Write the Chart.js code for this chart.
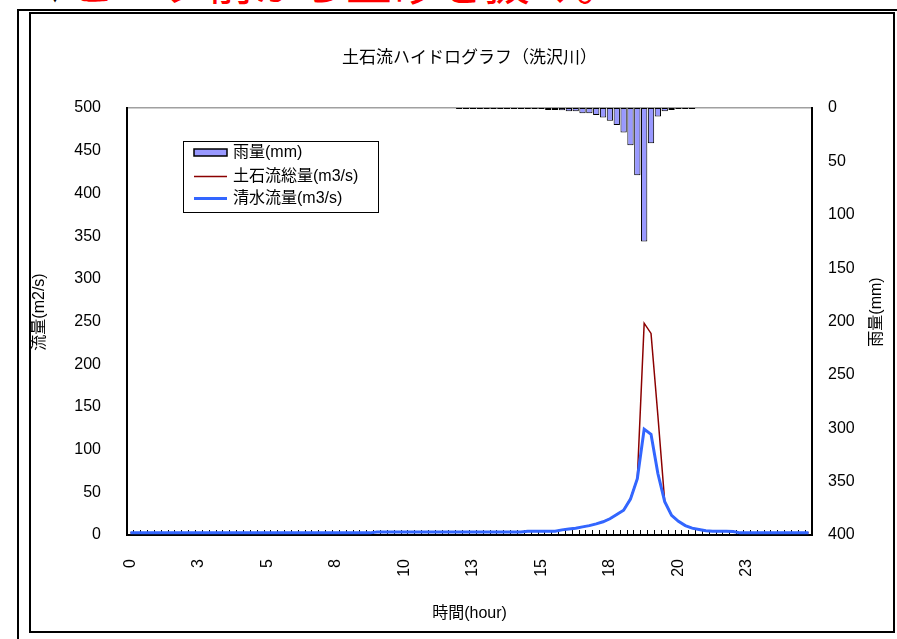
<!DOCTYPE html>
<html lang="ja">
<head>
  <meta charset="UTF-8" />
  <title>土石流ハイドログラフ（洗沢川）</title>
  <script src="https://cdn.jsdelivr.net/npm/chart.js"></script>
  <style>
    html, body { margin: 0; padding: 0; background: #fff; }
    body { width: 897px; height: 639px; position: relative; overflow: hidden; }
    .frame-outer { position: absolute; left: 17px; top: 9px; width: 900px; height: 660px;
      border-left: 2px solid #000; border-top: 2px solid #000; }
    .frame-inner { position: absolute; left: 29px; top: 12px; width: 862px; height: 617px;
      border: 2px solid #000; }
    .note { position: absolute; left: 40px; top: -43px; font-size: 46px; line-height: 46px;
      color: #ff0000; white-space: nowrap; font-family: "Noto Sans CJK JP", sans-serif; }
    .note span { color: #000; font-size: 30px; }
    #chart { position: absolute; left: 0; top: 0; }
  </style>
</head>
<body>
  <div class="note"><span>▼</span>ピーク前から土砂を抜く。</div>
  <div class="frame-outer"></div>
  <div class="frame-inner"></div>
  <canvas id="chart" width="897" height="639"></canvas>

  <script>
    const chartTitle = '土石流ハイドログラフ（洗沢川）';
    const xTitle = '時間(hour)';
    const yLeftTitle = '流量(m2/s)';
    const yRightTitle = '雨量(mm)';

    // 15分刻み
    const hours = [
      0, 0.25, 0.5, 0.75, 1, 1.25, 1.5, 1.75, 2, 2.25, 2.5, 2.75, 3, 3.25, 3.5, 3.75,
      4, 4.25, 4.5, 4.75, 5, 5.25, 5.5, 5.75, 6, 6.25, 6.5, 6.75, 7, 7.25, 7.5, 7.75,
      8, 8.25, 8.5, 8.75, 9, 9.25, 9.5, 9.75, 10, 10.25, 10.5, 10.75, 11, 11.25, 11.5, 11.75,
      12, 12.25, 12.5, 12.75, 13, 13.25, 13.5, 13.75, 14, 14.25, 14.5, 14.75, 15, 15.25, 15.5, 15.75,
      16, 16.25, 16.5, 16.75, 17, 17.25, 17.5, 17.75, 18, 18.25, 18.5, 18.75, 19, 19.25, 19.5, 19.75,
      20, 20.25, 20.5, 20.75, 21, 21.25, 21.5, 21.75, 22, 22.25, 22.5, 22.75, 23, 23.25, 23.5, 23.75,
      24, 24.25, 24.5, 24.75
    ];
    const tickLabels = ['0', '3', '5', '8', '10', '13', '15', '18', '20', '23'];

    const rainfall = [
      null, null, null, null, null, null, null, null, null, null, null, null, null, null, null, null,
      null, null, null, null, null, null, null, null, null, null, null, null, null, null, null, null,
      null, null, null, null, null, null, null, null, null, null, null, null, null, null, null, null,
      0, 0, 0, 0, 0, 0, 0, 0, 0, 0, 0, 0, 0,
      1.5, 1.5, 2, 3, 3, 5, 5, 6.5, 9, 12, 16, 23, 35, 63, 125, 33, 8, 3, 1.5,
      0, 0, 0,
      null, null, null, null, null, null, null, null, null, null, null, null, null, null, null, null, null
    ];

    const debrisFlow = [
      2.5, 2.5, 2.5, 2.5, 2.5, 2.5, 2.5, 2.5, 2.5, 2.5, 2.5, 2.5, 2.5, 2.5, 2.5, 2.5, 2.5, 2.5,
      2.5, 2.5, 2.5, 2.5, 2.5, 2.5, 2.5, 2.5, 2.5, 2.5, 2.5, 2.5, 2.5, 2.5, 2.5, 2.5, 2.5, 2.5,
      3.5, 3.5, 3.5, 3.5, 3.5, 3.5, 3.5, 3.5, 3.5, 3.5, 3.5, 3.5, 3.5, 3.5, 3.5, 3.5, 3.5, 3.5, 3.5, 3.5, 3.5, 3.5,
      4.5, 4.5, 4.5, 4.5, 4.5,
      6, 7, 8, 9.5, 11, 13, 15.5, 19, 24, 29, 43, 66, 248, 236, 140, 39, 23, 16, 11, 8, 6.5, 5, 4.5, 4.5, 4.5, 4,
      2.5, 2.5, 2.5, 2.5, 2.5, 2.5, 2.5, 2.5, 2.5, 2.5, 2.5
    ];

    const waterFlow = [
      2.5, 2.5, 2.5, 2.5, 2.5, 2.5, 2.5, 2.5, 2.5, 2.5, 2.5, 2.5, 2.5, 2.5, 2.5, 2.5, 2.5, 2.5,
      2.5, 2.5, 2.5, 2.5, 2.5, 2.5, 2.5, 2.5, 2.5, 2.5, 2.5, 2.5, 2.5, 2.5, 2.5, 2.5, 2.5, 2.5,
      3.5, 3.5, 3.5, 3.5, 3.5, 3.5, 3.5, 3.5, 3.5, 3.5, 3.5, 3.5, 3.5, 3.5, 3.5, 3.5, 3.5, 3.5, 3.5, 3.5, 3.5, 3.5,
      4.5, 4.5, 4.5, 4.5, 4.5,
      6, 7, 8, 9.5, 11, 13, 15.5, 19, 24, 29, 42, 66, 124, 118, 72, 39, 23, 16, 11, 8, 6.5, 5, 4.5, 4.5, 4.5, 4,
      2.5, 2.5, 2.5, 2.5, 2.5, 2.5, 2.5, 2.5, 2.5, 2.5, 2.5
    ];

    const FONT = '"Liberation Sans", "Noto Sans CJK JP", sans-serif';

    // タイトル・軸タイトル・凡例を描く
    const labelsPlugin = {
      id: 'labels',
      afterDraw(chart) {
        const { ctx, chartArea } = chart;
        const ds = chart.data.datasets;
        ctx.save();
        ctx.fillStyle = '#000';
        ctx.textBaseline = 'middle';

        ctx.textAlign = 'center';
        ctx.font = '17px ' + FONT;
        ctx.fillText(chartTitle, (chartArea.left + chartArea.right) / 2, 58);
        ctx.font = '16px ' + FONT;
        ctx.fillText(xTitle, (chartArea.left + chartArea.right) / 2, 614);

        ctx.save();
        ctx.translate(40, 312);
        ctx.rotate(-Math.PI / 2);
        ctx.fillText(yLeftTitle, 0, 0);
        ctx.restore();

        ctx.save();
        ctx.translate(877, 312);
        ctx.rotate(-Math.PI / 2);
        ctx.fillText(yRightTitle, 0, 0);
        ctx.restore();

        // 凡例
        ctx.fillStyle = '#fff';
        ctx.fillRect(183, 141, 195, 71);
        ctx.strokeStyle = '#000';
        ctx.lineWidth = 1;
        ctx.strokeRect(183.5, 141.5, 195, 71);

        const rows = [153, 176.5, 198.5];
        ctx.fillStyle = ds[0].backgroundColor;
        ctx.fillRect(194, 149, 33, 7);
        ctx.lineWidth = 1.5;
        ctx.strokeStyle = '#000';
        ctx.strokeRect(194, 149, 33, 7);

        ctx.lineWidth = ds[1].borderWidth;
        ctx.strokeStyle = ds[1].borderColor;
        ctx.beginPath(); ctx.moveTo(194, rows[1]); ctx.lineTo(227, rows[1]); ctx.stroke();
        ctx.lineWidth = ds[2].borderWidth;
        ctx.strokeStyle = ds[2].borderColor;
        ctx.beginPath(); ctx.moveTo(194, rows[2]); ctx.lineTo(227, rows[2]); ctx.stroke();

        ctx.fillStyle = '#000';
        ctx.textAlign = 'left';
        ds.forEach((d, i) => ctx.fillText(d.label, 233, rows[i]));
        ctx.restore();
      }
    };

    new Chart(document.getElementById('chart'), {
      type: 'bar',
      data: {
        labels: hours,
        datasets: [
          {
            type: 'bar',
            label: '雨量(mm)',
            data: rainfall,
            yAxisID: 'y1',
            backgroundColor: '#9999ff',
            borderColor: '#000',
            borderWidth: 1,
            borderSkipped: false,
            minBarLength: 2,
            barPercentage: 0.92,
            categoryPercentage: 1,
            order: 3
          },
          {
            type: 'line',
            label: '土石流総量(m3/s)',
            data: debrisFlow,
            yAxisID: 'y',
            borderColor: '#8b0000',
            borderWidth: 1.5,
            pointRadius: 0,
            tension: 0,
            order: 2
          },
          {
            type: 'line',
            label: '清水流量(m3/s)',
            data: waterFlow,
            yAxisID: 'y',
            borderColor: '#3366ff',
            borderWidth: 3,
            pointRadius: 0,
            tension: 0,
            order: 1
          }
        ]
      },
      options: {
        responsive: false,
        devicePixelRatio: 1,
        animation: false,
        layout: { padding: { top: 108, left: 0, right: 0, bottom: 0 } },
        plugins: {
          legend: { display: false },
          title: { display: false },
          tooltip: { enabled: false }
        },
        scales: {
          x: {
            offset: true,
            grid: { display: true, drawOnChartArea: false, drawTicks: true, tickLength: -5, color: '#000', lineWidth: 1, offset: true },
            border: { display: true, color: '#000', width: 2 },
            ticks: {
              autoSkip: false, maxRotation: 90, minRotation: 90, padding: 29, color: '#000',
              font: { family: FONT, size: 16 },
              callback: (v, i) => (i % 10 === 0 ? tickLabels[i / 10] : '')
            },
            afterFit: s => { s.height = 104; }
          },
          y: {
            position: 'left',
            min: 0, max: 500,
            ticks: { stepSize: 50, padding: 26, color: '#000', font: { family: FONT, size: 16 } },
            grid: {
              drawTicks: false,
              color: c => (c.tick && c.tick.value === 500 ? '#a0a0a0' : 'rgba(0,0,0,0)'),
              lineWidth: 1.5
            },
            border: { display: true, color: '#000', width: 2 },
            afterFit: s => { s.width = 127; }
          },
          y1: {
            position: 'right',
            reverse: true,
            min: 0, max: 400,
            ticks: { stepSize: 50, padding: 16, color: '#000', font: { family: FONT, size: 16 } },
            grid: { display: false, drawTicks: false },
            border: { display: true, color: '#000', width: 2 },
            afterFit: s => { s.width = 85; }
          }
        }
      },
      plugins: [labelsPlugin]
    });
  </script>
</body>
</html>
